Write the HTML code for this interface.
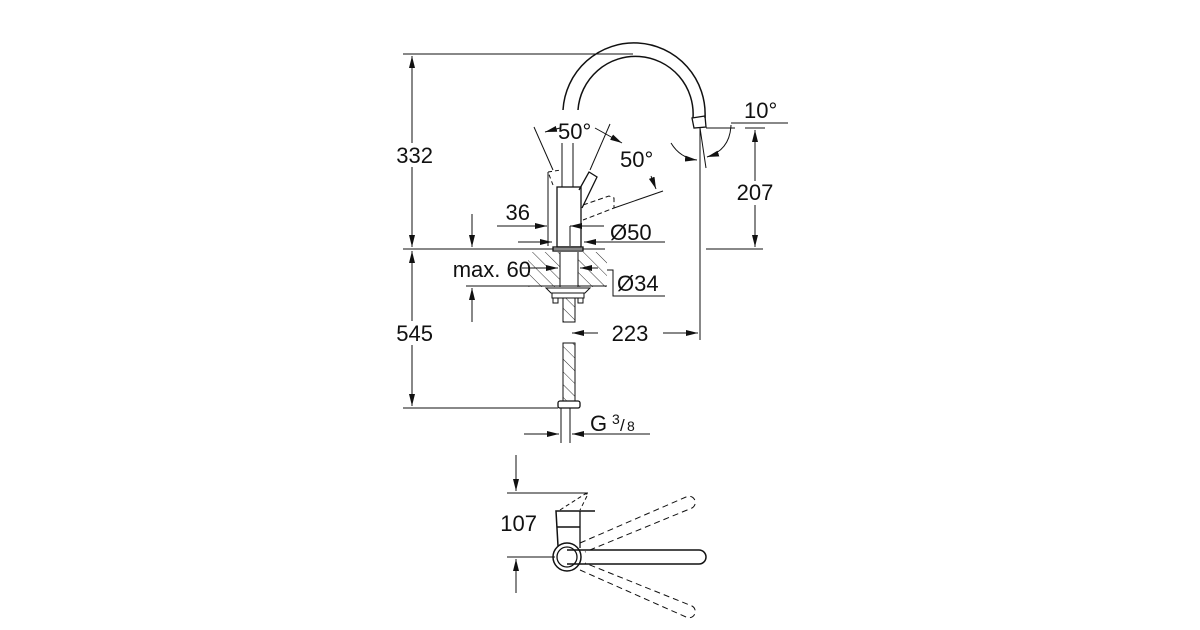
<!DOCTYPE html>
<html><head><meta charset="utf-8"><style>html,body{margin:0;padding:0;background:#fff}svg{display:block}text{font-family:"Liberation Sans",sans-serif;fill:#111}</style></head>
<body>
<svg width="1200" height="630" viewBox="0 0 1200 630" xmlns="http://www.w3.org/2000/svg">
<defs>
<marker id="a" viewBox="0 0 12 6" refX="12" refY="3" markerWidth="12" markerHeight="6" orient="auto-start-reverse" markerUnits="userSpaceOnUse"><path d="M0,0L12,3L0,6z" fill="#111"/></marker>
<pattern id="h" width="9" height="9" patternUnits="userSpaceOnUse" patternTransform="rotate(-45)"><line x1="0" y1="0" x2="0" y2="9" stroke="#333" stroke-width="1"/></pattern>
</defs>
<g stroke="#111" stroke-width="1" fill="none">
<line x1="403" y1="54" x2="633" y2="54"/>
<line x1="403" y1="249" x2="605" y2="249"/>
<line x1="403" y1="408" x2="558" y2="408"/>
<line x1="412" y1="56" x2="412" y2="247" marker-start="url(#a)" marker-end="url(#a)"/>
<line x1="412" y1="251" x2="412" y2="406" marker-start="url(#a)" marker-end="url(#a)"/>
<path d="M563,110 A70,70 0 0 1 705,118" stroke-width="1.5"/>
<path d="M578,110 A55,55 0 0 1 693,118" stroke-width="1.5"/>
<path d="M692,118 L705,116 L706,127 L694,128 Z" stroke-width="1.3"/>
<line x1="562" y1="143" x2="562" y2="187"/><line x1="573" y1="143" x2="573" y2="187"/>
<rect x="557" y="187" width="24" height="60" stroke-width="1.3"/>
<rect x="553" y="247" width="30" height="4" stroke-width="1.3"/>
<path d="M579,190 L589,172 L597,177 L582,208" stroke-width="1.3"/>
<path d="M553,185 L548,172 L561,170" stroke-dasharray="4,3"/>
<path d="M583,205 L609,196 L614,198 L614,208 L583,220" stroke-dasharray="5,3"/>
<line x1="534" y1="127" x2="553" y2="170"/>
<line x1="610" y1="124" x2="590" y2="170"/>
<line x1="614" y1="208" x2="663" y2="191"/>
<line x1="548" y1="172" x2="548" y2="246"/>
<rect x="528" y="252" width="79" height="35" fill="url(#h)" stroke="none"/>
<rect x="560" y="252" width="18" height="35" fill="#fff" stroke="none"/>
<line x1="560" y1="252" x2="560" y2="287"/><line x1="578" y1="252" x2="578" y2="287"/>
<line x1="466" y1="286" x2="607" y2="286"/>
<path d="M546,288 L590,288 L585,293 L551,293 Z"/>
<rect x="552" y="293" width="32" height="5"/>
<rect x="553" y="298" width="5" height="5"/><rect x="578" y="298" width="5" height="5"/>
<rect x="563" y="298" width="12" height="24" fill="url(#h)"/>
<rect x="563" y="343" width="12" height="58" fill="url(#h)"/>
<rect x="558" y="401" width="22" height="7" rx="2" stroke-width="1.3"/>
<line x1="561" y1="408" x2="561" y2="443"/><line x1="570" y1="408" x2="570" y2="443"/>
<line x1="497" y1="226" x2="547" y2="226" marker-end="url(#a)"/>
<line x1="604" y1="226" x2="570" y2="226" marker-end="url(#a)"/>
<line x1="570" y1="226" x2="570" y2="246"/>
<line x1="518" y1="242" x2="552" y2="242" marker-end="url(#a)"/>
<line x1="665" y1="242" x2="584" y2="242" marker-end="url(#a)"/>
<line x1="522" y1="268" x2="558" y2="268" marker-end="url(#a)"/>
<line x1="598" y1="268" x2="580" y2="268" marker-end="url(#a)"/>
<path d="M607,270 L613,270 L613,296 L665,296"/>
<line x1="472" y1="214" x2="472" y2="247" marker-end="url(#a)"/>
<line x1="472" y1="322" x2="472" y2="288" marker-end="url(#a)"/>
<line x1="700" y1="128" x2="700" y2="340"/>
<line x1="572" y1="333" x2="598" y2="333" marker-start="url(#a)"/>
<line x1="663" y1="333" x2="698" y2="333" marker-end="url(#a)"/>
<line x1="706" y1="128" x2="735" y2="128"/>
<line x1="731" y1="123" x2="788" y2="123"/>
<line x1="745" y1="128" x2="765" y2="128"/>
<line x1="700" y1="128" x2="706" y2="168"/>
<line x1="706" y1="249" x2="763" y2="249"/>
<line x1="755" y1="130" x2="755" y2="247" marker-start="url(#a)" marker-end="url(#a)"/>
<path d="M671,143 Q680,158 697,160" marker-end="url(#a)"/>
<path d="M731,125 Q730,150 707,157" marker-end="url(#a)"/>
<line x1="545" y1="132" x2="560" y2="128" marker-start="url(#a)"/>
<line x1="595" y1="128" x2="622" y2="143" marker-end="url(#a)"/>
<line x1="651" y1="176" x2="656" y2="189" marker-end="url(#a)"/>
<line x1="524" y1="434" x2="559" y2="434" marker-end="url(#a)"/>
<line x1="650" y1="434" x2="572" y2="434" marker-end="url(#a)"/>
<line x1="507" y1="493" x2="588" y2="493"/>
<line x1="507" y1="557" x2="555" y2="557"/>
<line x1="516" y1="455" x2="516" y2="491" marker-end="url(#a)"/>
<line x1="516" y1="593" x2="516" y2="559" marker-end="url(#a)"/>
<path d="M558,546 L556,511 L595,511" stroke-width="1.5"/>
<line x1="557" y1="527" x2="580" y2="527" stroke-width="1.5"/>
<line x1="580" y1="511" x2="580" y2="548" stroke-width="1.3"/>
<path d="M560,510 L585,494 L588,494 L580,510" stroke-dasharray="4,3"/>
<circle cx="567" cy="557" r="14" stroke-width="1.5"/>
<circle cx="567" cy="557" r="10" stroke-width="1.3"/>
<path d="M567,550 L699,550 A7,7 0 0 1 699,564 L567,564" stroke-width="1.5"/>
<path d="M580,543 L686,497 A6,6 0 0 1 692,508 L585,552" stroke-dasharray="6,4"/>
<path d="M580,570 L686,617 A6,6 0 0 0 692,606 L585,563" stroke-dasharray="6,4"/>
</g>
<g fill="#fff">
<rect x="388" y="143" width="46" height="24"/>
<rect x="388" y="321" width="46" height="24"/>
<rect x="732" y="181" width="46" height="24"/>
</g>
<g font-size="22">
<text x="433" y="163" text-anchor="end">332</text>
<text x="433" y="341" text-anchor="end">545</text>
<text x="531" y="277" text-anchor="end">max. 60</text>
<text x="530" y="220" text-anchor="end">36</text>
<text x="610" y="240">Ø50</text>
<text x="617" y="291">Ø34</text>
<text x="630" y="341" text-anchor="middle">223</text>
<text x="755" y="200" text-anchor="middle">207</text>
<text x="744" y="118">10°</text>
<text x="558" y="139">50°</text>
<text x="620" y="167">50°</text>
<text x="590" y="431">G</text>
<text x="612" y="424" font-size="14">3</text>
<text x="620" y="431" font-size="17">/</text>
<text x="627" y="431" font-size="14">8</text>
<text x="537" y="531" text-anchor="end">107</text>
</g>
</svg>
</body></html>
